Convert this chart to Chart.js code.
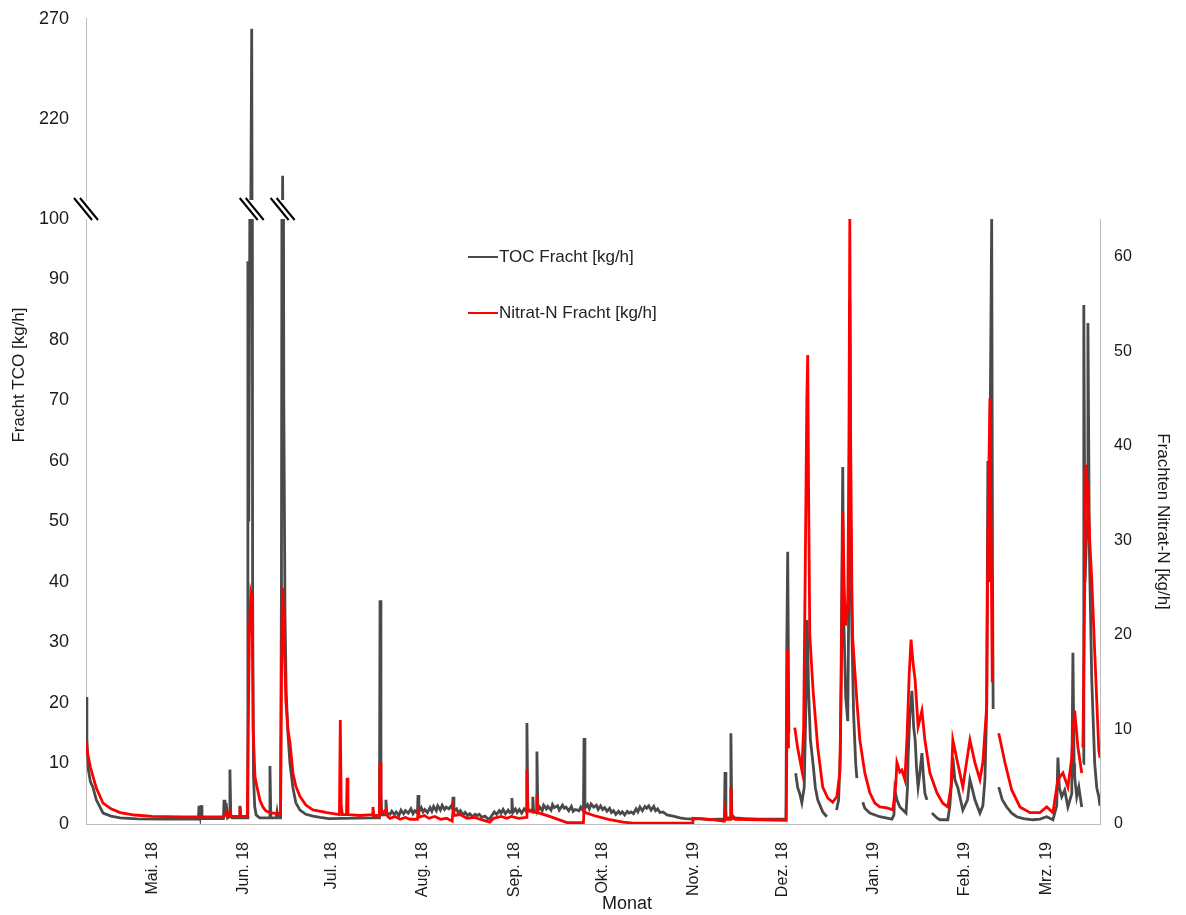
<!DOCTYPE html>
<html>
<head>
<meta charset="utf-8">
<script src="https://cdn.jsdelivr.net/npm/chart.js@4.4.0/dist/chart.umd.min.js"></script>
<style>
  html, body { margin: 0; padding: 0; background: #fff; }
  #wrap { position: relative; width: 1186px; height: 915px; overflow: hidden; font-family: 'Liberation Sans', Arial, sans-serif; }
  #wrap canvas { position: absolute; left: 0; top: 0; }
  #wrap #topChart { top: -9px; }
  #legend { position: absolute; left: 468px; top: 245px; }
  .item { display: flex; align-items: center; height: 24px; margin-bottom: 32px; font-size: 17px; color: #222; }
  .swatch { width: 30px; height: 2px; margin-right: 1px; }
</style>
</head>
<body>
<div id="wrap">
  <canvas id="topChart" width="1186" height="915"></canvas>
  <canvas id="mainChart" width="1186" height="915"></canvas>
  <div id="legend"></div>
</div>
<script>
// x = days since 1 Apr 2018
const monthTicks = [30, 61, 91, 122, 153, 183, 214, 244, 275, 306, 334];
const monthLabels = ['Mai. 18', 'Jun. 18', 'Jul. 18', 'Aug. 18', 'Sep. 18', 'Okt. 18', 'Nov. 19', 'Dez. 18', 'Jan. 19', 'Feb. 19', 'Mrz. 19'];
const tocTicks = [0, 10, 20, 30, 40, 50, 60, 70, 80, 90, 100];
const tocTicksBroken = [220, 270];
const nitratTicks = [0, 10, 20, 30, 40, 50, 60];

// [day, TOC kg/h]
const tocFracht = [
  [7.5, 21], [7.8, 14], [8.3, 9], [9.0, 7], [9.9, 6], [11.0, 4], [13.3, 1.8], [16.0, 1.3], [19.1, 1.0], [25.0, 0.85], [35.0, 0.8], [45.7, 0.8],
  [45.9, 3.0], [46.3, 1.5], [46.6, 3.1], [46.9, 0.9], [54.2, 0.9], [54.4, 4.0], [54.7, 1.5], [55.1, 3.5], [55.6, 1.0], [56.2, 1.2], [56.4, 9.0], [56.7, 1.3], [57.1, 1.0], [59.6, 1.0], [59.8, 3.0], [60.1, 1.0], [62.3, 1.0],
  [62.5, 93], [62.8, 50], [63.3, 120], [63.8, 265], [64.1, 40], [64.4, 8], [64.8, 3], [65.3, 1.5], [66.5, 1.0], [69.8, 1.0], [70.0, 9.6], [70.3, 1.0], [72.1, 1.0], [72.4, 2.0], [72.7, 1.0], [73.6, 1.0],
  [73.9, 40], [74.3, 192], [74.7, 70], [75.1, 35], [75.5, 22], [76.1, 15], [76.8, 10], [77.8, 6], [78.8, 3.5], [80.2, 2.3], [82.2, 1.6], [84.6, 1.3], [87.0, 1.1], [90.0, 0.9],
  [104.7, 1.0], [105.0, 2.0], [105.4, 1.0], [107.2, 1.0], [107.4, 37], [107.7, 5], [108.0, 1.5], [109.2, 1.5], [109.4, 4.0], [109.7, 1.8],
  [110.8, 1.6], [111.4, 2.1], [112.2, 1.6], [112.9, 2.0], [113.8, 1.4], [114.5, 2.3], [115.4, 1.7], [116.0, 2.2], [117.0, 1.8], [117.9, 2.5], [118.6, 1.7], [119.2, 2.2],
  [120.1, 1.8], [120.3, 4.8], [120.6, 2.0], [121.4, 2.7], [122.0, 2.0], [122.6, 2.4], [123.5, 1.9], [124.4, 2.7], [125.0, 2.1], [125.6, 2.9], [126.5, 2.2], [127.0, 3.0],
  [127.9, 2.3], [128.5, 3.1], [129.3, 2.4], [129.9, 2.8], [130.8, 2.5], [131.4, 2.9], [131.9, 2.6], [132.2, 4.5], [132.5, 2.2], [133.4, 2.5], [134.0, 1.8], [134.7, 2.2],
  [135.6, 1.5], [136.3, 1.9], [137.2, 1.4], [137.9, 1.7], [138.8, 1.2], [139.7, 1.6], [140.4, 1.4], [141.1, 1.6], [142.0, 1.1], [143.0, 1.3], [144.0, 0.9], [144.7, 0.9],
  [145.5, 1.5], [146.2, 2.0], [147.0, 1.6], [147.9, 2.2], [148.5, 1.8], [149.2, 2.4], [150.0, 1.7], [150.9, 2.3], [151.5, 1.9], [152.0, 2.1], [152.2, 4.3], [152.5, 1.9],
  [153.4, 2.5], [154.0, 1.9], [154.7, 2.4], [155.5, 1.8], [156.4, 2.5], [157.1, 2.1], [157.3, 16.7], [157.6, 2.5], [158.3, 2.2], [159.1, 2.4], [159.3, 4.5], [159.6, 2.0],
  [160.5, 2.1], [160.7, 12], [161.0, 2.2], [161.6, 2.8], [162.5, 2.2], [163.0, 3.1], [163.9, 2.5], [164.4, 2.9], [165.5, 2.3], [166.0, 3.2], [166.6, 2.7], [167.7, 3.0],
  [168.3, 2.3], [169.4, 3.1], [170.0, 2.6], [170.6, 2.8], [171.5, 2.2], [172.4, 2.9], [173.0, 2.1], [173.7, 2.4], [175.0, 2.2], [175.6, 2.8], [176.5, 2.1], [176.7, 14.2],
  [177.0, 2.6], [177.9, 3.2], [178.5, 2.5], [179.1, 3.3], [180.0, 2.8], [180.9, 3.1], [181.5, 2.4], [182.3, 3.0], [183.0, 2.4], [183.7, 2.7], [184.5, 2.1], [185.4, 2.6],
  [186.0, 1.9], [186.7, 2.2], [187.5, 1.6], [188.4, 2.1], [189.0, 1.7], [189.7, 2.0], [190.5, 1.5], [191.4, 2.1], [192.0, 1.8], [192.7, 2.0], [193.5, 1.7], [194.4, 2.5],
  [195.0, 2.0], [195.7, 2.8], [196.5, 2.2], [197.4, 2.9], [198.0, 2.6], [198.7, 3.0], [199.5, 2.3], [200.4, 2.9], [201.0, 2.2], [201.7, 2.5], [202.5, 1.9], [203.5, 2.0],
  [204.9, 1.5], [207.0, 1.3], [209.3, 1.0], [211.0, 0.9], [213.7, 0.8], [216.0, 0.9], [219.5, 0.7], [222.0, 0.8], [224.4, 0.8], [224.6, 8.6], [224.9, 1.0], [226.4, 1.0],
  [226.6, 15], [226.9, 1.5], [228.0, 1.0], [231.3, 0.9], [236.4, 0.8], [241.5, 0.8], [245.3, 0.8],
  [245.6, 30], [245.9, 45], [246.3, 15], [246.5, null], [248.6, 8.4], [249.3, 6], [250.0, 5], [250.7, 3.5], [251.5, 6], [252.1, 20], [252.5, 33.7], [253.0, 22],
  [253.6, 14], [254.5, 10], [255.3, 6], [256.1, 4], [257.8, 2], [259.2, 1.2], [259.6, null], [262.5, 2.3], [263.2, 4], [263.8, 12], [264.3, 40], [264.6, 59],
  [264.9, 35], [265.6, 21], [266.3, 17], [266.7, 40], [267.0, 86.6], [267.3, 50], [267.7, 31.6], [268.3, 18], [269.0, 10], [269.4, 7.6], [269.6, null],
  [271.4, 3.6], [272.1, 2.6], [273.8, 1.8], [277.2, 1.2], [281.3, 0.8], [282.0, 1.5], [282.3, 5.6], [283.0, 4], [284.0, 2.8], [286.1, 1.8], [286.6, 6], [286.8, 11],
  [287.4, 18], [288.1, 22], [288.7, 16], [289.2, 13.9], [289.7, 9], [290.2, 6.1], [290.7, 8], [291.5, 11.7], [292.0, 8], [292.5, 5.1], [293.2, 4], [293.4, null],
  [294.9, 1.8], [296.6, 1.0], [297.6, 0.7], [300.3, 0.7], [301.0, 3], [301.7, 8], [302.0, 11], [302.7, 7.3], [303.7, 6], [305.4, 2.3], [307.0, 4], [307.8, 7.3],
  [308.5, 6], [309.5, 4], [311.2, 1.8], [312.2, 3], [312.9, 7.3], [313.5, 19], [313.9, 60], [314.3, 40], [314.9, 80], [315.2, 100], [315.5, 40], [315.7, 19], [315.9, null],
  [317.6, 6.1], [318.8, 4], [320.3, 2.8], [322.0, 1.8], [323.7, 1.2], [326.0, 0.9], [329.2, 0.7], [331.6, 0.8], [333.9, 1.2], [336.0, 0.7], [337.3, 3], [337.7, 11],
  [338.2, 6], [339.0, 4.5], [340.0, 5.6], [341.1, 2.8], [342.4, 5], [342.8, 28.3], [343.2, 10], [343.4, 7.8], [344.1, 4.5], [344.8, 6.1], [345.8, 2.8], [346.0, null],
  [346.3, 10], [346.5, 85.8], [346.9, 40], [347.6, 50], [347.9, 82.8], [348.4, 45], [349.2, 23.8], [350.2, 10], [350.9, 6], [351.6, 4.5], [352.0, 3]
];

// [day, Nitrat-N kg/h]
const nitratFracht = [
  [7.5, 8.7], [8.0, 7.5], [9.0, 6], [9.9, 5], [11.0, 3.8], [13.3, 2.2], [16.0, 1.6], [19.1, 1.2], [24.0, 0.95], [30.0, 0.8], [40.0, 0.75], [54.4, 0.75],
  [55.1, 1.2], [55.6, 0.8], [56.2, 0.8], [56.4, 1.5], [56.8, 0.8], [59.6, 0.8], [59.8, 1.8], [60.1, 0.8], [62.3, 0.8],
  [62.6, 10], [63.0, 20], [63.5, 24.5], [63.9, 24], [64.3, 10], [64.9, 5], [65.6, 3.9], [66.6, 2.5], [67.6, 1.8], [68.6, 1.4], [70.0, 1.2], [72.4, 1.1], [73.6, 1.0],
  [73.9, 15], [74.3, 25], [74.8, 20], [75.4, 13], [76.1, 10], [76.8, 8.6], [77.8, 5.4], [78.8, 4], [80.2, 2.9], [82.2, 2], [84.6, 1.5], [89.4, 1.2], [93.6, 1.0],
  [93.9, 11], [94.2, 2], [94.6, 1.0], [96.0, 1.0], [96.2, 4.9], [96.5, 1.0], [100.6, 0.9], [104.8, 1.0], [105.0, 1.8], [105.3, 0.9], [107.2, 0.9], [107.4, 6.5],
  [107.7, 1.5], [108.5, 1.2], [109.4, 1.5], [110.0, 0.8],
  [110.8, 0.6], [112.5, 0.8], [114.2, 0.5], [116.0, 0.7], [117.6, 0.5], [120.1, 0.5], [120.3, 1.2], [120.6, 0.7], [122.5, 0.9], [124.0, 0.6], [126.0, 0.8], [128.0, 0.5],
  [130.0, 0.6], [131.9, 0.3], [132.2, 1.5], [132.5, 0.9], [134.5, 1.0], [137.0, 0.6], [139.5, 0.7], [142.4, 0.4], [144.7, 0.2], [146.0, 0.6], [148.5, 0.8], [150.5, 0.6],
  [152.0, 0.8], [154.5, 0.6], [157.1, 0.7], [157.3, 5.7], [157.6, 1.4], [160.5, 1.2], [160.7, 3.1], [161.0, 1.2], [165.0, 0.8], [170.9, 0.15],
  [176.5, 0.15], [176.7, 1.5], [177.2, 1.2], [180.0, 0.9], [185.0, 0.5], [190.0, 0.2], [193.3, 0.1], [205.0, 0.1], [213.5, 0.1], [213.7, 0.6], [219.5, 0.5], [224.4, 0.3],
  [224.6, 1.2], [224.9, 0.5], [226.4, 0.5], [226.6, 3.9], [226.9, 0.7], [228.0, 0.5], [236.4, 0.45], [245.4, 0.4],
  [245.8, 18.5], [246.2, 8], [246.5, null], [248.3, 10.2], [249.3, 8], [250.7, 5.7], [251.3, 10], [251.8, 25], [252.4, 45], [252.7, 49.6], [253.0, 35], [253.4, 20],
  [254.5, 14.2], [256.1, 8.1], [257.8, 3.9], [259.5, 2.75], [261.2, 2.3], [262.6, 2.9], [263.6, 5.4], [264.1, 15], [264.6, 33], [265.1, 25], [265.6, 21], [266.3, 23],
  [266.7, 40], [267.0, 64], [267.3, 40], [267.7, 25], [268.0, 19.5], [269.4, 13], [270.4, 8.9], [272.1, 5.4], [273.8, 3.3], [275.5, 2.2], [277.2, 1.8], [279.6, 1.7],
  [281.6, 1.5], [282.6, 4], [283.0, 6.5], [284.0, 5.5], [284.7, 5.7], [285.7, 4.7], [286.4, 8.9], [287.2, 16], [287.8, 19.5], [288.5, 17], [289.2, 15.2], [290.2, 10.3],
  [291.5, 12], [292.5, 8.9], [294.2, 5.4], [296.6, 3.3], [298.6, 2.2], [300.3, 1.8], [301.4, 4], [302.0, 8.9], [303.4, 6.8], [305.4, 3.9], [307.8, 8.9], [309.5, 6.5],
  [311.2, 4.7], [312.2, 6.5], [313.5, 12.4], [313.9, 30], [314.6, 45], [315.0, 30], [315.4, 15], [315.7, null], [317.6, 9.6], [319.7, 6.5], [322.0, 3.6], [324.8, 1.8],
  [328.2, 1.2], [331.6, 1.2], [333.9, 1.8], [336.0, 1.2], [337.7, 4.7], [339.4, 5.4], [341.1, 3.9], [342.4, 7], [342.8, 9.6], [343.4, 12], [344.5, 8.1], [345.8, 5.4],
  [346.0, null], [346.2, 8.1], [346.8, 25], [347.2, 38], [347.9, 35], [348.5, 30], [349.2, 25.8], [350.9, 13], [351.6, 7.8], [352.0, 7]
];

const FONT = "'Liberation Sans', Arial, sans-serif";
const TOC_COLOR = '#4a4a4a';
const NO3_COLOR = '#ff0000';
const AXIS_GREY = '#bdbdbd';
const X_MIN = 7.5, X_MAX = 352;

Chart.defaults.font.family = FONT;
Chart.defaults.color = '#1a1a1a';

const toXY = arr => arr.map(([x, y]) => ({ x, y }));
const fixTicks = list => scale => { scale.ticks = list.map(v => ({ value: v })); };

// break marks "//" between lower and upper panel
const breakMarks = {
  id: 'breakMarks',
  afterDraw(chart) {
    const { ctx, scales: { x } } = chart;
    const yc = 209;
    const xs = [x.left, x.getPixelForValue(63.8), x.getPixelForValue(74.3)];
    ctx.save();
    xs.forEach(cx => {
      ctx.fillStyle = '#fff';
      ctx.beginPath();
      ctx.moveTo(cx - 12, yc - 11);
      ctx.lineTo(cx - 6, yc - 11);
      ctx.lineTo(cx + 12, yc + 11);
      ctx.lineTo(cx + 6, yc + 11);
      ctx.closePath();
      ctx.fill();
      ctx.strokeStyle = '#000';
      ctx.lineWidth = 2;
      [-3, 3].forEach(o => {
        ctx.beginPath();
        ctx.moveTo(cx - 9 + o, yc - 11);
        ctx.lineTo(cx + 9 + o, yc + 11);
        ctx.stroke();
      });
    });
    ctx.restore();
  }
};

// left y title and x title sit off-centre in the original
const freeTitles = {
  id: 'freeTitles',
  afterDraw(chart) {
    const { ctx } = chart;
    ctx.save();
    ctx.fillStyle = '#1a1a1a';
    ctx.textAlign = 'center';
    ctx.textBaseline = 'middle';
    ctx.font = '17px ' + FONT;
    ctx.translate(19, 375);
    ctx.rotate(-Math.PI / 2);
    ctx.fillText('Fracht TCO [kg/h]', 0, 0);
    ctx.restore();
    ctx.save();
    ctx.fillStyle = '#1a1a1a';
    ctx.textAlign = 'center';
    ctx.textBaseline = 'middle';
    ctx.font = '18px ' + FONT;
    ctx.fillText('Monat', 627, 904);
    ctx.restore();
  }
};

// upper panel (TOC above the axis break); canvas is shifted up 9px in CSS
new Chart(document.getElementById('topChart'), {
  type: 'line',
  data: {
    datasets: [{
      label: 'TOC Fracht [kg/h]',
      data: toXY(tocFracht),
      borderColor: TOC_COLOR,
      borderWidth: 2.8,
      pointRadius: 0,
      spanGaps: false
    }]
  },
  options: {
    responsive: false,
    animation: false,
    layout: { padding: { top: 9, right: 86, bottom: 706, left: 0 } },
    plugins: { legend: { display: false }, tooltip: { enabled: false } },
    scales: {
      x: { type: 'linear', min: X_MIN, max: X_MAX, display: false },
      y: {
        min: 180, max: 270,
        afterBuildTicks: fixTicks(tocTicksBroken),
        ticks: { padding: 17, font: { size: 18 } },
        grid: { display: false, drawTicks: false },
        border: { color: AXIS_GREY },
        afterFit: s => { s.width = 86; }
      }
    }
  }
});

// lower panel
const mainChart = new Chart(document.getElementById('mainChart'), {
  type: 'line',
  data: {
    datasets: [
      {
        label: 'TOC Fracht [kg/h]',
        data: toXY(tocFracht),
        yAxisID: 'y',
        borderColor: TOC_COLOR,
        borderWidth: 2.8,
        order: 2
      },
      {
        label: 'Nitrat-N Fracht [kg/h]',
        data: toXY(nitratFracht),
        yAxisID: 'y2',
        borderColor: NO3_COLOR,
        borderWidth: 2.8,
        order: 1
      }
    ]
  },
  options: {
    responsive: false,
    animation: false,
    spanGaps: false,
    elements: { point: { radius: 0 }, line: { tension: 0 } },
    layout: { padding: { top: 219, left: 0, right: 0, bottom: 0 } },
    plugins: { legend: { display: false }, tooltip: { enabled: false } },
    scales: {
      x: {
        type: 'linear', min: X_MIN, max: X_MAX,
        afterBuildTicks: fixTicks(monthTicks),
        ticks: {
          autoSkip: false, minRotation: 90, maxRotation: 90, padding: 18,
          font: { size: 16 },
          callback: (v, i) => monthLabels[i]
        },
        grid: { display: false, drawTicks: false },
        border: { color: AXIS_GREY },
        afterFit: s => { s.height = 91; }
      },
      y: {
        position: 'left', min: 0, max: 100,
        afterBuildTicks: fixTicks(tocTicks),
        ticks: { padding: 17, font: { size: 18 } },
        grid: { display: false, drawTicks: false },
        border: { color: AXIS_GREY },
        afterFit: s => { s.width = 86; }
      },
      y2: {
        position: 'right', min: 0, max: 64,
        afterBuildTicks: fixTicks(nitratTicks),
        ticks: { padding: 14, font: { size: 16 } },
        grid: { display: false, drawTicks: false },
        border: { color: AXIS_GREY },
        title: { display: true, text: 'Frachten Nitrat-N [kg/h]', font: { size: 17 }, padding: { top: 13, bottom: 0 } },
        afterFit: s => { s.width = 86; }
      }
    }
  },
  plugins: [breakMarks, freeTitles]
});

// legend inside the plot, built from the chart datasets
const legendEl = document.getElementById('legend');
mainChart.data.datasets.forEach(ds => {
  const row = document.createElement('div');
  row.className = 'item';
  const sw = document.createElement('span');
  sw.className = 'swatch';
  sw.style.background = ds.borderColor;
  row.appendChild(sw);
  row.appendChild(document.createTextNode(ds.label));
  legendEl.appendChild(row);
});
</script>
</body>
</html>
